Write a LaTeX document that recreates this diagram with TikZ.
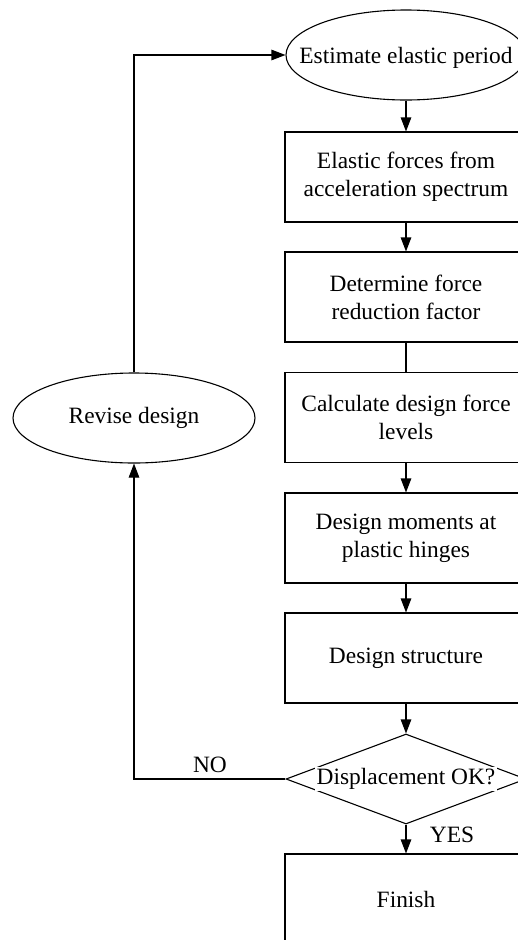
\documentclass[tikz,border=0pt]{standalone}
\usepackage{fontspec}
\setmainfont{Liberation Serif}
\usetikzlibrary{shapes.geometric,arrows.meta}
\begin{document}
\begin{tikzpicture}[x=1pt,y=-1pt,
  font=\fontsize{23.4}{28}\selectfont,
  line width=1.1pt,
  stepbox/.style={draw, rectangle, minimum width=242pt, minimum height=90pt, inner sep=0pt, align=center},
  oval/.style={draw, ellipse, minimum width=#1, minimum height=90pt, inner sep=0pt},
  arr/.style={-{Triangle[length=14pt,width=10.5pt]}},
  lbl/.style={inner sep=0pt, align=center}]
\useasboundingbox (0,0) rectangle (518,940);
\clip (0,0) rectangle (518,940);
\fill[white] (0,0) rectangle (518,940);
\node[oval=240pt] (est) at (406,55) {};
\node[lbl] (estt) at (406,58) {Estimate elastic period};
\node[stepbox] (b1) at (406,177) {Elastic forces from\\acceleration spectrum};
\node[stepbox] (b2) at (406,297) {Determine force\\reduction factor};
\node[stepbox] (b3) at (406,417.5) {Calculate design force\\levels};
\node[stepbox] (b4) at (406,538) {Design moments at\\plastic hinges};
\node[stepbox] (b5) at (406,658) {Design structure};
\node[draw, diamond, minimum width=240pt, minimum height=90pt, inner sep=0pt] (dia) at (406,779) {};
\node[fill=white, inner sep=1.5pt] (diat) at (dia) {Displacement OK?};
\node[stepbox] (fin) at (406,899) {Finish};
\node[oval=242pt] (rev) at (134,418) {};
\node[lbl] (revt) at (rev) {Revise design};
\draw[arr] (est) -- (b1);
\draw[arr] (b1) -- (b2);
\draw (b2) -- (b3);
\draw[arr] (b3) -- (b4);
\draw[arr] (b4) -- (b5);
\draw[arr] (b5) -- (dia.north);
\draw[arr] (dia.south) -- (fin);
\draw[arr] (dia.west) -| (rev.south);
\draw[arr] (rev.north) |- (est.west);
\node[lbl] (no) at (210,765) {NO};
\node[lbl] (yes) at (452,835) {YES};
\end{tikzpicture}
\end{document}
